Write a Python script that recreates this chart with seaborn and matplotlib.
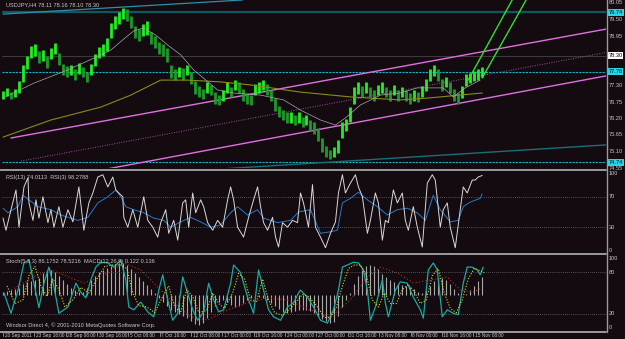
import numpy as np
import pandas as pd
import matplotlib
matplotlib.use("Agg")
import matplotlib.pyplot as plt
import matplotlib.transforms as mtransforms
from matplotlib.lines import Line2D
import seaborn as sns

# ---- data (H4 bars, price samples every 2 bars) ----
bar_high = [77.12, 77.22, 77.10, 77.18, 77.45, 77.98, 78.28, 78.62, 78.68, 78.45,
            78.50, 78.30, 78.55, 78.72, 78.40, 78.02, 77.95, 78.00, 77.85, 78.05,
            77.92, 77.75, 78.02, 78.35, 78.60, 78.68, 78.90, 79.40, 79.62, 79.75,
            79.88, 79.85, 79.62, 79.30, 79.18, 79.35, 79.45, 79.10, 78.95, 78.75,
            78.68, 78.55, 78.00, 77.85, 77.92, 77.88, 78.00, 77.75, 77.45, 77.28,
            77.20, 77.40, 77.32, 77.08, 77.00, 77.15, 77.40, 77.25, 77.50, 77.40,
            77.18, 77.05, 77.00, 77.35, 77.40, 77.50, 77.35, 77.15, 76.88, 76.62,
            76.50, 76.40, 76.40, 76.32, 76.40, 76.25, 76.32, 76.15, 76.08, 75.88,
            75.55, 75.28, 75.15, 75.25, 75.50, 76.10, 76.20, 76.60, 77.25, 77.42,
            77.28, 77.40, 77.25, 77.15, 77.32, 77.40, 77.25, 77.15, 77.32, 77.15,
            77.25, 77.15, 77.05, 77.15, 77.10, 77.28, 77.52, 77.85, 78.00, 77.85,
            77.52, 77.60, 77.40, 77.18, 77.05, 77.30, 77.68, 77.72, 77.80, 77.85,
            77.92]
bar_low = [76.85, 76.95, 76.86, 76.92, 77.05, 77.40, 77.85, 78.22, 78.30, 78.05,
           78.12, 77.90, 78.18, 78.35, 77.98, 77.65, 77.58, 77.65, 77.48, 77.70,
           77.58, 77.40, 77.65, 77.95, 78.22, 78.30, 78.45, 78.90, 79.20, 79.35,
           79.52, 79.45, 79.22, 78.88, 78.80, 78.95, 79.00, 78.68, 78.55, 78.35,
           78.30, 78.10, 77.55, 77.48, 77.58, 77.50, 77.65, 77.35, 77.02, 76.90,
           76.85, 77.05, 76.98, 76.70, 76.65, 76.80, 77.05, 76.90, 77.15, 77.05,
           76.80, 76.70, 76.65, 76.98, 77.05, 77.15, 76.98, 76.80, 76.45, 76.25,
           76.15, 76.05, 76.05, 75.98, 76.05, 75.90, 75.98, 75.80, 75.70, 75.45,
           75.10, 74.92, 74.85, 74.92, 75.05, 75.55, 75.78, 76.10, 76.70, 77.02,
           76.90, 77.05, 76.90, 76.80, 76.98, 77.05, 76.90, 76.80, 76.98, 76.80,
           76.90, 76.80, 76.70, 76.80, 76.75, 76.90, 77.12, 77.45, 77.62, 77.45,
           77.12, 77.25, 77.05, 76.80, 76.70, 76.88, 77.28, 77.38, 77.45, 77.50,
           77.58]

ma_fast_bar = [0, 15.5, 32.5, 49, 54, 60.5, 65.5, 70.5, 76.5, 82.5, 89, 95.5, 107.5, 115.5,
               129, 140.5, 149, 159, 166.5, 171.5, 179, 189, 199, 207.5, 220.5, 225.5, 231.5, 239]
ma_fast_val = [76.88, 77.38, 77.82, 78.32, 78.48, 78.85, 79.12, 79.22, 78.98, 78.65, 78.32,
               77.82, 77.15, 77.05, 76.98, 76.82, 76.48, 76.15, 75.98, 76.22, 76.65, 76.98,
               77.05, 77.22, 77.22, 76.92, 77.22, 77.48]
ma_slow_bar = [0, 24, 49, 64, 79, 92.5, 109, 124, 149, 174, 199, 212.5, 240]
ma_slow_val = [75.58, 76.15, 76.58, 76.98, 77.48, 77.48, 77.42, 77.32, 77.08, 76.92, 76.82,
               76.88, 77.05]

# trendlines as (bar, price) end points
chan_up = [(4, 75.55), (302, 79.18)]
chan_dn = [(49, 74.48), (302, 77.62)]
chan_mid = [(9, 74.78), (302, 78.40)]
arrow_a = [(233, 77.48), (255, 80.15)]
arrow_b = [(240, 77.55), (262, 80.15)]
teal_top = [(0, 79.68), (120, 80.15)]
teal_bottom = [(100, 74.48), (302, 75.32)]
level_solid = 79.74
level_cyan = [77.76, 74.74]
level_bid = 78.30

rsi3_bar = [0, 1.5, 4, 6.5, 8, 10.5, 12.5, 13, 15, 16.5, 18, 20, 22.5, 24, 25.5, 28, 30, 32.5,
            35, 38, 40.5, 43, 45, 47.5, 50, 52.5, 55, 56.5, 58, 60, 60.5, 62.5, 65, 67.5, 70.5,
            72.5, 75, 77.5, 79, 81.5, 83, 85.5, 87.5, 90, 91.5, 93, 95, 96.5, 99, 100.5, 102.5,
            105, 107.5, 110, 112.5, 114, 115.5, 117.5, 120.5, 123, 125.5, 127.5, 129, 130.5,
            132.5, 135, 136.5, 138, 140, 142.5, 145, 147.5, 149, 150.5, 153, 155, 156.5, 159,
            161.5, 164, 166.5, 168, 170, 171.5, 174, 176.5, 178, 180, 182.5, 184, 186.5, 188,
            190, 191.5, 193, 195.5, 197.5, 200, 201.5, 203, 205.5, 207.5, 210, 212.5, 215,
            216.5, 219, 220.5, 222.5, 224, 226.5, 229, 230.5, 232.5, 235, 236.5, 238, 240]
rsi3_val = [42, 26, 53, 79, 30, 83, 95, 62, 39, 66, 42, 70, 36, 53, 30, 57, 30, 53,
            37, 83, 26, 62, 75, 96, 99, 83, 96, 79, 75, 70, 43, 30, 53, 30, 70,
            39, 30, 17, 36, 53, 22, 39, 13, 62, 66, 30, 75, 49, 66, 57, 36,
            26, 39, 30, 66, 83, 66, 30, 17, 43, 66, 83, 57, 36,
            26, 43, 17, 4, 36, 30, 39, 36, 75, 62, 30, 86, 30, 17,
            3, 22, 37, 75, 99, 75, 88, 99, 83, 70, 22, 39, 75, 62,
            13, 39, 36, 79, 62, 75, 39, 26, 57, 30, 4, 88, 99,
            92, 30, 53, 62, 30, 3, 53, 83, 75, 92, 92, 96, 98]
rsi13_bar = [0, 2.5, 7.5, 10, 13, 17.5, 24, 29, 37.5, 42.5, 47.5, 52.5, 56.5, 59, 61.5, 65.5,
             70.5, 75.5, 80.5, 84, 89, 94, 99, 104, 109, 114, 117.5, 122.5, 127.5, 130.5,
             137.5, 144, 148, 154, 159, 164, 167.5, 170, 174, 178, 182.5, 187.5, 192.5,
             197.5, 202.5, 207.5, 211.5, 215.5, 219, 224, 228, 230.5, 234, 239, 240]
rsi13_val = [55, 49, 57, 72, 66, 57, 53, 46, 39, 43, 62, 70, 79, 70, 57, 53,
             49, 42, 39, 30, 37, 43, 37, 30, 33, 49, 57, 46, 53, 42,
             36, 39, 50, 53, 22, 24, 26, 62, 68, 76, 66, 57, 46,
             53, 55, 49, 39, 72, 53, 37, 39, 57, 63, 68, 74]

stoch_bar = [0.5, 4, 7.5, 10.5, 13, 15.5, 18, 20.5, 23, 25.5, 28, 32.5, 36.5, 39, 41.5, 44,
             46.5, 49, 52.5, 55.5, 59, 61.5, 63, 65.5, 69, 72.5, 75.5, 78, 80, 82.5, 85,
             87.5, 90, 91.5, 95, 97.5, 100.5, 103, 105.5, 108, 110.5, 114, 115.5, 119,
             122.5, 125.5, 128, 130.5, 133, 135.5, 139, 142.5, 145.5, 148, 149, 152.5,
             155.5, 159, 162.5, 165.5, 168, 170, 172.5, 175.5, 178, 180.5, 182.5, 184,
             186.5, 190, 191.5, 193, 196.5, 199, 202.5, 205.5, 209, 210.5, 213, 215.5,
             217.5, 220, 222.5, 225.5, 228, 230.5, 232.5, 235, 237.5, 239, 240.5]
stoch_val = [50, 21, 54, 93, 97, 64, 29, 64, 87, 59, 21, 30, 64, 51, 43, 69,
             87, 94, 93, 87, 97, 69, 30, 26, 37, 23, 16, 54, 76, 40, 11,
             21, 73, 59, 26, 11, 23, 64, 40, 23, 26, 64, 90, 79,
             44, 21, 83, 54, 26, 16, 11, 30, 36, 50, 54, 44,
             30, 11, 7, 26, 54, 87, 90, 94, 93, 83, 54, 11,
             30, 69, 36, 16, 54, 66, 64, 44, 26, 14, 83, 93,
             83, 16, 26, 21, 19, 64, 87, 87, 83, 76, 87]
signal_bar = [2, 6, 10, 13, 16, 19, 22, 25, 28, 31, 35, 39, 43, 47, 51, 55, 59, 62, 65, 68,
              72, 76, 80, 83, 86, 89, 92, 95, 98, 102, 105, 108, 111, 115, 118, 121, 124,
              127, 130, 133, 136, 140, 144, 147, 150, 153, 157, 161, 164, 167, 170, 173,
              176, 179, 182, 185, 188, 191, 194, 197, 200, 203, 206, 209, 212, 215, 218,
              221, 224, 227, 230, 233, 236, 239, 241]
signal_val = [60, 35, 40, 75, 88, 60, 45, 70, 55, 30, 40, 58, 50, 70, 88, 90, 90, 85, 50, 32,
              30, 22, 45, 60, 30, 22, 55, 45, 22, 25, 50, 35, 28, 50, 78, 70, 40,
              38, 70, 40, 22, 18, 28, 38, 48, 45, 32, 15, 15, 30, 60, 85,
              90, 90, 75, 40, 30, 50, 35, 35, 55, 62, 52, 35, 40, 75, 85,
              50, 28, 22, 40, 70, 85, 82, 79]

macd_hist = [0.020, 0.027, 0.034, 0.041, 0.048, 0.075, 0.088, 0.095, 0.102, 0.116,
             0.150, 0.163, 0.170, 0.156, 0.129, 0.102, 0.075, 0.048, 0.034, 0.020,
             0.020, 0.048, 0.102, 0.129, 0.156, 0.170, 0.184, 0.197, 0.211, 0.218,
             0.218, 0.204, 0.177, 0.150, 0.122, 0.095, 0.068, 0.041, 0.014, -0.020,
             -0.048, -0.075, -0.102, -0.116, -0.129, -0.143, -0.156, -0.177, -0.197, -0.204,
             -0.190, -0.156, -0.116, -0.075, -0.048, -0.034, -0.048, -0.068, -0.082, -0.075,
             -0.054, -0.034, -0.020, -0.014, -0.014, -0.020, -0.034, -0.054, -0.075, -0.095,
             -0.116, -0.122, -0.116, -0.109, -0.102, -0.102, -0.102, -0.109, -0.122, -0.143,
             -0.163, -0.177, -0.190, -0.184, -0.143, -0.082, -0.034, 0.014, 0.075, 0.129,
             0.170, 0.197, 0.204, 0.197, 0.177, 0.143, 0.122, 0.102, 0.088, 0.075,
             0.068, 0.061, 0.054, 0.041, 0.020, 0.014, 0.034, 0.061, 0.095, 0.116,
             0.116, 0.102, 0.075, 0.041, 0.014, 0.000, 0.007, 0.034, 0.061, 0.095, 0.122]
macd_sig_bar = [4, 15.5, 24, 40.5, 49, 60.5, 69, 77.5, 85.5, 94, 102.5, 112.5, 122.5, 132.5,
                142.5, 154, 164, 174, 182.5, 189, 197.5, 205.5, 214, 222.5, 229, 235.5, 240]
macd_sig_val = [0.034, 0.122, 0.170, 0.082, 0.122, 0.218, 0.170, 0.054, -0.054, -0.150,
                -0.170, -0.102, -0.054, -0.020, -0.034, -0.102, -0.150, -0.034, 0.122, 0.190,
                0.150, 0.082, 0.102, 0.122, 0.034, 0.020, 0.048]

price_ticks = [80.05, 79.50, 78.95, 77.30, 76.75, 76.20, 75.65, 75.10, 74.55]
date_labels = ["20 Sep 2011", "23 Sep 16:00", "28 Sep 08:00", "30 Sep 16:00", "5 Oct 08:00",
               "7 Oct 16:00", "12 Oct 08:00", "17 Oct 00:00", "19 Oct 16:00", "24 Oct 08:00",
               "27 Oct 00:00", "31 Oct 16:00", "3 Nov 08:00", "8 Nov 00:00", "10 Nov 16:00",
               "15 Nov 08:00"]

# ---- figure ----
BG = "#130b10"
FG = "#c8c8c8"
sns.set_theme(style="dark", rc={"axes.facecolor": BG, "figure.facecolor": BG})
plt.rcParams["font.family"] = ["Liberation Sans", "DejaVu Sans"]

W, H = 625, 339
fig = plt.figure(figsize=(W / 100, H / 100), dpi=100)


def panel(top, bottom):
    ax = fig.add_axes([2 / W, 1 - bottom / H, 604 / W, (bottom - top) / H])
    ax.set_xlim(-0.5, 302)
    ax.set_axis_off()
    return ax


ax_p = panel(0, 168)
ax_r = panel(172, 252)
ax_m = panel(255, 331)   # MACD histogram, own scale
ax_s = panel(255, 331)   # stochastic on top
ax_s.patch.set_alpha(0)

ax_p.set_ylim(74.55, 80.15)
ax_r.set_ylim(-2.6, 102.6)
ax_s.set_ylim(-4.3, 104.3)
ax_m.set_ylim(-0.245, 0.272)

FS = 4.1
FS_DATE = 3.4
DOT = (0, (1, 1.5))


def line(ax, pts, color, lw=0.9, ls="-"):
    d = pd.DataFrame(pts, columns=["bar", "v"])
    sns.lineplot(data=d, x="bar", y="v", ax=ax, color=color, lw=lw, ls=ls,
                 estimator=None, sort=False, legend=False)


# price panel
ax_p.axhline(level_solid, color="#0b5a60", lw=1.6)
for lv in level_cyan:
    ax_p.axhline(lv, color="#11b8c8", lw=0.8, ls=(0, (2, 1)))
ax_p.axhline(level_bid, color="#3a3a3a", lw=0.8)

line(ax_p, teal_top, "#2f8fa8", lw=0.9)
line(ax_p, teal_bottom, "#177078", lw=1.0)
line(ax_p, chan_up, "#e070e0", lw=1.0)
line(ax_p, chan_dn, "#e070e0", lw=1.0)
line(ax_p, chan_mid, "#a050a0", lw=0.7, ls=DOT)

bars = pd.DataFrame({"bar": np.arange(len(bar_high)) * 2, "hi": bar_high, "lo": bar_low})
mid = (bars["hi"] + bars["lo"]) / 2
up = mid.diff().fillna(0) >= 0
ax_p.vlines(bars["bar"][up], bars["lo"][up], bars["hi"][up], color="#22ee22", lw=2.0)
ax_p.vlines(bars["bar"][~up], bars["lo"][~up], bars["hi"][~up], color="#1c9a2a", lw=2.0)

line(ax_p, list(zip(ma_slow_bar, ma_slow_val)), "#8a8a1a", lw=0.8)
line(ax_p, list(zip(ma_fast_bar, ma_fast_val)), "#a8a8a8", lw=0.5)

line(ax_p, arrow_a, "#33dd33", lw=1.0)
line(ax_p, arrow_b, "#33dd33", lw=1.0)

# RSI panel
for lv in (70, 30):
    ax_r.axhline(lv, color="#6a6a6a", lw=0.6, ls=DOT)
line(ax_r, list(zip(rsi13_bar, rsi13_val)), "#2a78c8", lw=0.7)
line(ax_r, list(zip(rsi3_bar, rsi3_val)), "#d8d8d8", lw=0.7)

# Stoch / MACD panel
ax_m.vlines(np.arange(len(macd_hist)) * 2, 0, macd_hist, color="#a8a8a8", lw=0.8)
line(ax_m, list(zip(macd_sig_bar, macd_sig_val)), "#d02020", lw=0.8, ls=(0, (1, 2)))
for lv in (80, 20):
    ax_s.axhline(lv, color="#6a6a6a", lw=0.6, ls=DOT)
line(ax_s, list(zip(stoch_bar, stoch_val)), "#1aaaa0", lw=0.9)
line(ax_s, list(zip(signal_bar, signal_val)), "#d8d820", lw=0.8, ls=DOT)

# frame lines
for yy in (170, 253.5, 331.5):
    fig.add_artist(Line2D([0, 606 / W], [1 - yy / H] * 2, color="#9a9a9a", lw=1.4))
fig.add_artist(Line2D([606.5 / W] * 2, [1 - 331.5 / H, 1], color="#9a9a9a", lw=1.0))


def ylabels(ax, vals):
    tr = mtransforms.blended_transform_factory(fig.transFigure, ax.transData)
    for v in vals:
        ax.text(609 / W, v, str(v) if isinstance(v, int) else f"{v:.2f}", transform=tr,
                fontsize=FS, color=FG, va="center", ha="left", clip_on=False)


ylabels(ax_p, price_ticks)
ylabels(ax_r, [100, 70, 30, 0])
ylabels(ax_s, [100, 80, 20, 0])

trp = mtransforms.blended_transform_factory(fig.transFigure, ax_p.transData)
for v, fc in ((level_solid, "#22d8e8"), (level_cyan[0], "#22d8e8"), (level_cyan[1], "#22d8e8"),
              (level_bid, "#ffffff")):
    ax_p.text(608.5 / W, v, f"{v:.2f}", transform=trp, fontsize=FS, color="#000000",
              va="center", ha="left", clip_on=False,
              bbox=dict(boxstyle="square,pad=0.15", fc=fc, ec="none"))

# panel captions
ax_p.text(4 / 604, 1 - 5 / 168, "USDJPY,H4 78.11 78.16 78.10 78.30", transform=ax_p.transAxes,
          fontsize=FS, color=FG, va="center", ha="left")
ax_r.text(4 / 604, 1 - 5 / 80, "RSI(13) 74.0113  RSI(3) 98.2788", transform=ax_r.transAxes,
          fontsize=FS, color=FG, va="center", ha="left")
ax_s.text(4 / 604, 1 - 6 / 76, "Stoch(5,3,3) 86.1752 78.5216  MACD(12,26,9) 0.122 0.136",
          transform=ax_s.transAxes, fontsize=FS, color=FG, va="center", ha="left")
ax_s.text(4 / 604, 6 / 76, "Windsor Direct 4, \u00a9 2001-2010 MetaQuotes Software Corp.",
          transform=ax_s.transAxes, fontsize=FS, color=FG, va="center", ha="left")

# date axis
trd = mtransforms.blended_transform_factory(ax_s.transData, fig.transFigure)
for k, lab in enumerate(date_labels):
    xb = k * 15.7
    fig.add_artist(Line2D([xb, xb], [1 - 332 / H, 1 - 336 / H], color="#9a9a9a", lw=0.6,
                          transform=trd))
    ax_s.text(xb + 0.8, 1 - 335.5 / H, lab, transform=trd, fontsize=FS_DATE, color=FG,
              va="center", ha="left", clip_on=False)

fig.savefig("out.png", dpi=100, facecolor=BG)
